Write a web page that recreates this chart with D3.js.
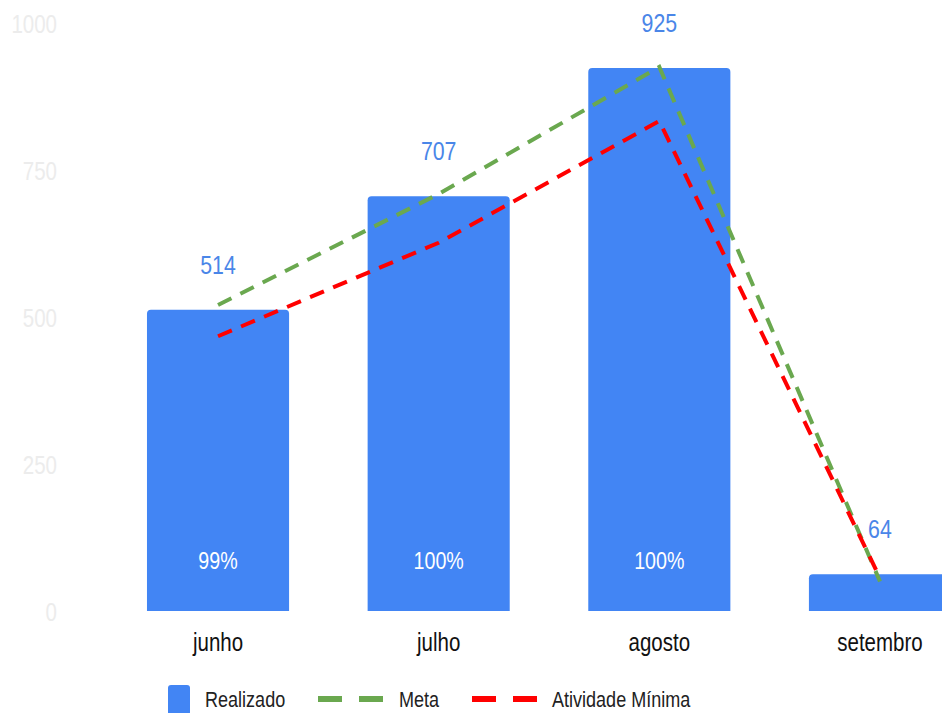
<!DOCTYPE html>
<html>
<head>
<meta charset="utf-8">
<script src="https://cdn.jsdelivr.net/npm/d3@7"></script>
<style>
  html, body { margin: 0; padding: 0; background: #fff; }
  svg { display: block; }
  text { font-family: "Liberation Sans", Arial, sans-serif; }
</style>
</head>
<body>
<svg id="chart" width="942" height="713"></svg>
<script>
const categories = ["junho", "julho", "agosto", "setembro"];
const realizado = [514, 707, 925, 64];
const meta = [522, 711, 927, 52];
const atividadeMinima = [469, 628, 835, 58];
const percentLabels = ["99%", "100%", "100%", ""];
const yTicks = [0, 250, 500, 750, 1000];
const legendLabels = ["Realizado", "Meta", "Atividade Mínima"];

const svg = d3.select("#chart");
const blue = "#4285f4", green = "#6aa84f", red = "#ff0000";
const SX = 0.82; // narrow font emulation

const y = d3.scaleLinear().domain([0, 1000]).range([612, 24]);
const x = d3.scaleBand().domain(categories).range([107.7, 990.3]).paddingInner(0.356).paddingOuter(0.178);
const cx = d => x(d) + x.bandwidth() / 2;
const place = (px, py) => `translate(${px},${py}) scale(${SX},1)`;

// Y axis labels
const yAxis = d3.axisLeft(y).tickValues(yTicks).tickFormat(d3.format("d")).tickSize(0).tickPadding(0);
const gy = svg.append("g").attr("transform", "translate(57,0)").call(yAxis);
gy.select(".domain").remove();
gy.selectAll("text").attr("fill", "#ececec").attr("font-size", 25)
  .attr("font-family", "'Liberation Sans',Arial,sans-serif").attr("x", 0)
  .attr("transform", `scale(${SX},1)`);

// Bars with rounded top corners
function barPath(x0, w, yTop, yBot, r) {
  r = Math.min(r, (yBot - yTop) / 2, w / 2);
  return `M${x0},${yBot}V${yTop + r}Q${x0},${yTop} ${x0 + r},${yTop}H${x0 + w - r}Q${x0 + w},${yTop} ${x0 + w},${yTop + r}V${yBot}Z`;
}
svg.append("g").selectAll("path").data(categories).join("path")
  .attr("d", (c, i) => barPath(x(c), x.bandwidth(), y(realizado[i]), y(0) - 1, 4))
  .attr("fill", blue);

// Percent labels
svg.append("g").selectAll("text").data(categories).join("text")
  .attr("transform", c => place(cx(c), 569))
  .attr("text-anchor", "middle").attr("fill", "#fff").attr("font-size", 24)
  .text((c, i) => percentLabels[i]);

// Lines
const line = d3.line().x(d => cx(d.c)).y(d => y(d.v));
function drawLine(vals, color) {
  const pts = categories.map((c, i) => ({ c, v: vals[i] }));
  svg.append("path").datum(pts).attr("d", line)
    .attr("fill", "none").attr("stroke", color).attr("stroke-width", 4)
    .attr("stroke-dasharray", "15,10").attr("stroke-linejoin", "miter");
}
drawLine(meta, green);
drawLine(atividadeMinima, red);

// Value labels
svg.append("g").selectAll("text").data(categories).join("text")
  .attr("transform", (c, i) => place(cx(c), y(realizado[i]) - 36))
  .attr("text-anchor", "middle").attr("fill", "#4a86e8").attr("font-size", 26)
  .text((c, i) => realizado[i]);

// X axis labels
const xAxis = d3.axisBottom(x).tickSize(0).tickPadding(0);
const gx = svg.append("g").attr("transform", "translate(0,651)").call(xAxis);
gx.select(".domain").remove();
gx.selectAll("text").attr("fill", "#111").attr("font-size", 25).attr("dy", null).attr("y", 0)
  .attr("font-family", "'Liberation Sans',Arial,sans-serif")
  .attr("transform", `scale(${SX},1)`);

// Legend
const lg = svg.append("g");
lg.append("rect").attr("x", 168).attr("y", 685).attr("width", 22).attr("height", 30).attr("rx", 3).attr("fill", blue);
[[318, green], [359, green], [472, red], [513, red]].forEach(([lx, col]) => {
  lg.append("rect").attr("x", lx).attr("y", 696).attr("width", 24).attr("height", 6).attr("fill", col);
});
[[205, 0], [399, 1], [552, 2]].forEach(([lx, i]) => {
  lg.append("text").attr("transform", place(lx, 707)).attr("font-size", 22).attr("fill", "#222").text(legendLabels[i]);
});
</script>
</body>
</html>
